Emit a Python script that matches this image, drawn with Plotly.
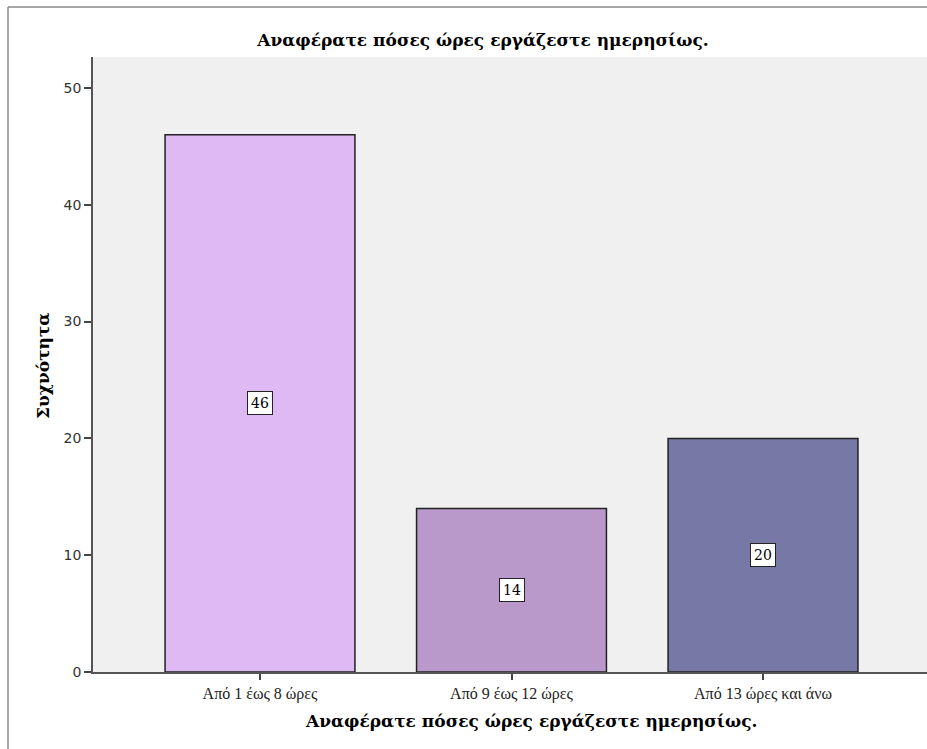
import plotly.graph_objects as go

# data
categories = ["Από 1 έως 8 ώρες", "Από 9 έως 12 ώρες", "Από 13 ώρες και άνω"]
counts = [46, 14, 20]
bar_colors = ["#DFB9F3", "#B899C9", "#7878A6"]

title_text = "Αναφέρατε πόσες ώρες εργάζεστε ημερησίως."
y_title = "Συχνότητα"
serif = "DejaVu Serif, serif"
times = "Liberation Serif, serif"

W, H = 927, 749
L, R, T, B = 93, 0, 57, 77
pw, ph = W - L - R, H - T - B


def px_x(p):
    return (p - L) / pw


def px_y(p):
    return (H - B - p) / ph


fig = go.Figure()
fig.add_trace(go.Bar(
    x=list(range(len(categories))),
    y=counts,
    width=0.755,
    marker=dict(color=bar_colors, line=dict(color="#222222", width=1.5)),
    hoverinfo="skip",
))

# value labels in white boxes at the middle of each bar
for i, v in enumerate(counts):
    fig.add_annotation(
        x=i, y=v / 2, text=str(v), showarrow=False,
        font=dict(family=serif, size=14, color="black"),
        bgcolor="white", bordercolor="#222222", borderwidth=1, borderpad=3,
    )

# axis titles
fig.add_annotation(
    x=px_x(531), y=px_y(721), xref="paper", yref="paper",
    xanchor="center", yanchor="middle",
    text="<b>" + title_text + "</b>", showarrow=False,
    font=dict(family=serif, size=17, color="black"),
)
fig.add_annotation(
    x=px_x(43), y=px_y(366), xref="paper", yref="paper",
    xanchor="center", yanchor="middle",
    text="<b>" + y_title + "</b>", showarrow=False, textangle=-90,
    font=dict(family=serif, size=17, color="black"),
)

# outer frame (only top and left edges visible in the crop)
fig.add_shape(type="line", xref="paper", yref="paper",
              x0=px_x(8), y0=px_y(7), x1=px_x(W + 5), y1=px_y(7),
              line=dict(color="#888888", width=1.5))
fig.add_shape(type="line", xref="paper", yref="paper",
              x0=px_x(8), y0=px_y(7), x1=px_x(8), y1=px_y(H + 5),
              line=dict(color="#888888", width=1.5))

fig.update_layout(
    width=W, height=H,
    margin=dict(l=L, r=R, t=T, b=B),
    paper_bgcolor="white",
    plot_bgcolor="#F0F0F0",
    showlegend=False,
    title=dict(text="<b>" + title_text + "</b>", x=483 / W, y=1 - 40 / H,
               xanchor="center", yanchor="middle",
               font=dict(family=serif, size=17, color="black")),
    xaxis=dict(
        range=[-0.664, 2.652],
        tickmode="array", tickvals=list(range(len(categories))), ticktext=categories,
        ticks="outside", ticklen=6, tickcolor="#444444", tickwidth=1.5,
        showline=True, linecolor="#555555", linewidth=1.5,
        showgrid=False, zeroline=False,
        tickfont=dict(family=times, size=16, color="#222222"),
    ),
    yaxis=dict(
        range=[0, 52.65],
        tickvals=[0, 10, 20, 30, 40, 50],
        ticks="outside", ticklen=7, tickcolor="#444444", tickwidth=1.5,
        showline=True, linecolor="#555555", linewidth=1.5,
        showgrid=False, zeroline=False,
        tickfont=dict(family="DejaVu Sans, sans-serif", size=14, color="#333333"),
    ),
)

# drop the default page margin so the figure sits at the window's corner
fig.write_html("out.html", config={"displayModeBar": False},
               post_script="document.body.style.margin='0px';")
